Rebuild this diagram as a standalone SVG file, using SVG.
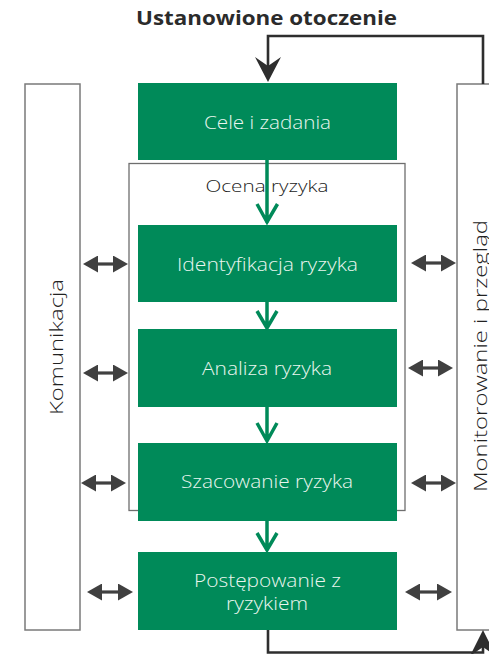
<svg xmlns="http://www.w3.org/2000/svg" width="489" height="654" viewBox="0 0 489 654">
<style>
.side{fill:#fff;stroke:#7a7a7a;stroke-width:1.5}
.frame{fill:#fff;stroke:#6e6e6e;stroke-width:1.3}
.box{fill:#008a59}
.bt{font-family:"Open Sans","Liberation Sans",sans-serif;font-size:17.5px;font-weight:300;fill:#eaf6ef;text-anchor:middle}
.dt{font-family:"Open Sans","Liberation Sans",sans-serif;font-size:19px;font-weight:300;fill:#222;text-anchor:middle}
.title{font-family:"Open Sans","Liberation Sans",sans-serif;font-size:19.5px;font-weight:bold;fill:#2b2b2b;text-anchor:middle}
.dbl{stroke:#404040;stroke-width:3.2;fill:none;marker-start:url(#tri);marker-end:url(#tri)}
.g{stroke:#008a59;stroke-width:3.5;fill:none}
.fb{stroke:#2e2e2e;stroke-width:2.6;fill:none}
</style>
<defs>
<marker id="tri" markerUnits="userSpaceOnUse" viewBox="0 0 15 17" markerWidth="15" markerHeight="17" refX="5" refY="8.5" orient="auto-start-reverse">
<path d="M0,0 L15,8.5 L0,17 z" fill="#404040"/>
</marker>
</defs>
<text class="title" x="266.5" y="24.5" textLength="261" lengthAdjust="spacingAndGlyphs">Ustanowione otoczenie</text>
<g id="komunikacja">
<rect class="side" x="25" y="84" width="55" height="546"/>
<text class="dt" transform="translate(63,347) rotate(-90)" textLength="136" lengthAdjust="spacingAndGlyphs">Komunikacja</text>
</g>
<g id="monitorowanie">
<rect class="side" x="457" y="84" width="60" height="546"/>
<text class="dt" transform="translate(487,356) rotate(-90)" textLength="272" lengthAdjust="spacingAndGlyphs">Monitorowanie i przegląd</text>
</g>
<g id="ocena">
<rect class="frame" x="129" y="163.5" width="276" height="347"/>
<text x="267" y="192" font-family="Open Sans, Liberation Sans, sans-serif" font-size="17px" font-weight="300" fill="#222" text-anchor="middle" textLength="123" lengthAdjust="spacingAndGlyphs">Ocena ryzyka</text>
</g>
<g id="cele">
<rect class="box" x="138" y="83" width="259" height="77"/>
<text class="bt" x="267.5" y="129" textLength="127" lengthAdjust="spacingAndGlyphs">Cele i zadania</text>
</g>
<g id="identyfikacja">
<rect class="box" x="138" y="225" width="259" height="77"/>
<text class="bt" x="267.5" y="271" textLength="181" lengthAdjust="spacingAndGlyphs">Identyfikacja ryzyka</text>
</g>
<g id="analiza">
<rect class="box" x="138" y="329" width="259" height="78"/>
<text class="bt" x="267" y="375" textLength="130" lengthAdjust="spacingAndGlyphs">Analiza ryzyka</text>
</g>
<g id="szacowanie">
<rect class="box" x="138" y="443" width="259" height="78"/>
<text class="bt" x="267" y="488" textLength="172" lengthAdjust="spacingAndGlyphs">Szacowanie ryzyka</text>
</g>
<g id="postepowanie">
<rect class="box" x="138" y="552" width="259" height="78"/>
<text class="bt" x="267.5" y="587" textLength="147" lengthAdjust="spacingAndGlyphs">Postępowanie z</text>
<text class="bt" x="267" y="610" textLength="82" lengthAdjust="spacingAndGlyphs">ryzykiem</text>
</g>
<g id="connectors">
<path class="g" d="M267,160 V223 M257,204 L267,222 L277.5,204"/>
<path class="g" d="M267,302 V327 M257,311 L267,328 L277,311"/>
<path class="g" d="M267,407 V441 M257,423 L267,441 L277,423"/>
<path class="g" d="M267,521 V550 M257,533 L267,550 L277,533"/>
<line class="dbl" x1="93" y1="264" x2="118" y2="264"/>
<line class="dbl" x1="93" y1="373" x2="118" y2="373"/>
<line class="dbl" x1="91" y1="483" x2="116" y2="483"/>
<line class="dbl" x1="97" y1="592" x2="123" y2="592"/>
<line class="dbl" x1="421" y1="263" x2="446" y2="263"/>
<line class="dbl" x1="418" y1="368" x2="443" y2="368"/>
<line class="dbl" x1="421" y1="483" x2="446" y2="483"/>
<line class="dbl" x1="415" y1="592" x2="442" y2="592"/>
<path class="fb" d="M483,84 V36 H268 V68"/>
<path d="M268,82 L255,57 L268,66 L281,57 z" fill="#2e2e2e"/>
<path class="fb" d="M268,630 V652.5 H483 V645"/>
<path d="M483,630 L470,656 L483,647 L496,656 z" fill="#2e2e2e"/>
</g>
</svg>
